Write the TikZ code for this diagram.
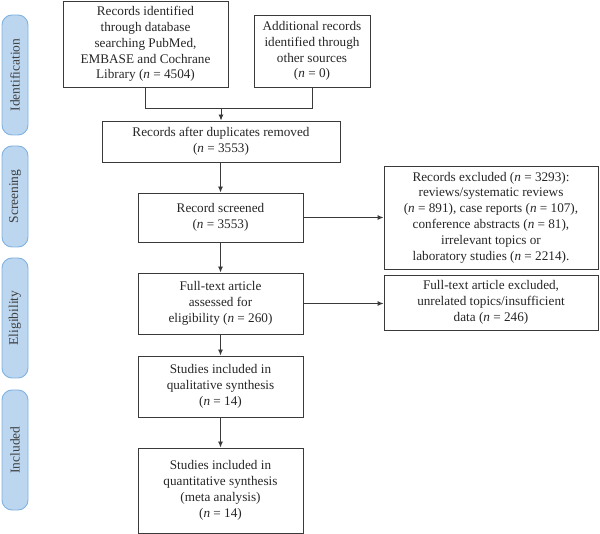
\documentclass[tikz,border=0pt]{standalone}
\usepackage{fontspec}
\setmainfont{Liberation Serif}
\usetikzlibrary{arrows.meta}
\definecolor{boxline}{HTML}{3A3A3A}
\definecolor{sidefill}{HTML}{BCD6EF}
\definecolor{sideline}{HTML}{7FB2E2}
\tikzset{
  box/.style={draw=boxline, line width=0.9pt, align=center, inner sep=2pt,
    font=\fontsize{13.2}{15.8}\selectfont, text=black!85},
  side/.style={draw=sideline, fill=sidefill, line width=0.9pt, rounded corners=10pt,
    minimum width=26pt},
  sidetext/.style={rotate=90, font=\fontsize{13.5}{15}\selectfont, text=black!75},
  arr/.style={draw=boxline, line width=0.9pt, -{Latex[length=6pt,width=5pt]}},
  ln/.style={draw=boxline, line width=0.9pt}
}
\newcommand{\nn}{\textit{n}}
\begin{document}
\begin{tikzpicture}[x=1pt,y=-1pt]
\useasboundingbox (0,0) rectangle (600,534);
% side labels
\node[side, minimum height=120pt] (sid) at (15,75) {};
\node[sidetext] (tid) at (sid.center) {Identification};
\node[side, minimum height=101pt] (ssc) at (15,196.5) {};
\node[sidetext] (tsc) at (ssc.center) {Screening};
\node[side, minimum height=120pt] (sel) at (15,318) {};
\node[sidetext] (tel) at (sel.center) {Eligibility};
\node[side, minimum height=120pt] (sin) at (15,450) {};
\node[sidetext] (tin) at (sin.center) {Included};
% boxes
\node[box, minimum width=165pt, minimum height=86pt] (b1) at (145.5,44) {Records identified\\through database\\searching PubMed,\\EMBASE and Cochrane\\Library (\nn{} = 4504)};
\node[box, minimum width=116pt, minimum height=72pt] (b2) at (312,51) {Additional records\\identified through\\other sources\\(\nn{} = 0)};
\node[box, minimum width=238pt, minimum height=41pt] (b3) at (221,141.5) {Records after duplicates removed\\(\nn{} = 3553)};
\node[box, minimum width=165pt, minimum height=49pt] (b4) at (220.5,217.5) {Record screened\\(\nn{} = 3553)};
\node[box, minimum width=165pt, minimum height=61pt] (b5) at (220.5,303.5) {Full-text article\\assessed for\\eligibility (\nn{} = 260)};
\node[box, minimum width=165pt, minimum height=61pt] (b6) at (220.5,386.5) {Studies included in\\qualitative synthesis\\(\nn{} = 14)};
\node[box, minimum width=165pt, minimum height=85pt] (b7) at (220.5,490.5) {Studies included in\\quantitative synthesis\\(meta analysis)\\(\nn{} = 14)};
\node[box, minimum width=214pt, minimum height=103pt] (e1) at (491,217.5) {Records excluded (\nn{} = 3293):\\reviews/systematic reviews\\(\nn{} = 891), case reports (\nn{} = 107),\\conference abstracts (\nn{} = 81),\\irrelevant topics or\\laboratory studies (\nn{} = 2214).};
\node[box, minimum width=214pt, minimum height=55pt] (e2) at (491,302.5) {Full-text article excluded,\\unrelated topics/insufficient\\data (\nn{} = 246)};
% connectors
\coordinate (m) at (221,108);
\draw[ln] (b1.south) |- (m);
\draw[ln] (b2.south) |- (m);
\draw[arr] (m) -- (b3.north);
\draw[arr] (b3.south -| b4.north) -- (b4.north);
\draw[arr] (b4.south) -- (b5.north);
\draw[arr] (b5.south) -- (b6.north);
\draw[arr] (b6.south) -- (b7.north);
\draw[arr] (b4.east) -- (b4.east -| e1.west);
\draw[arr] (b5.east) -- (b5.east -| e2.west);
\end{tikzpicture}
\end{document}
